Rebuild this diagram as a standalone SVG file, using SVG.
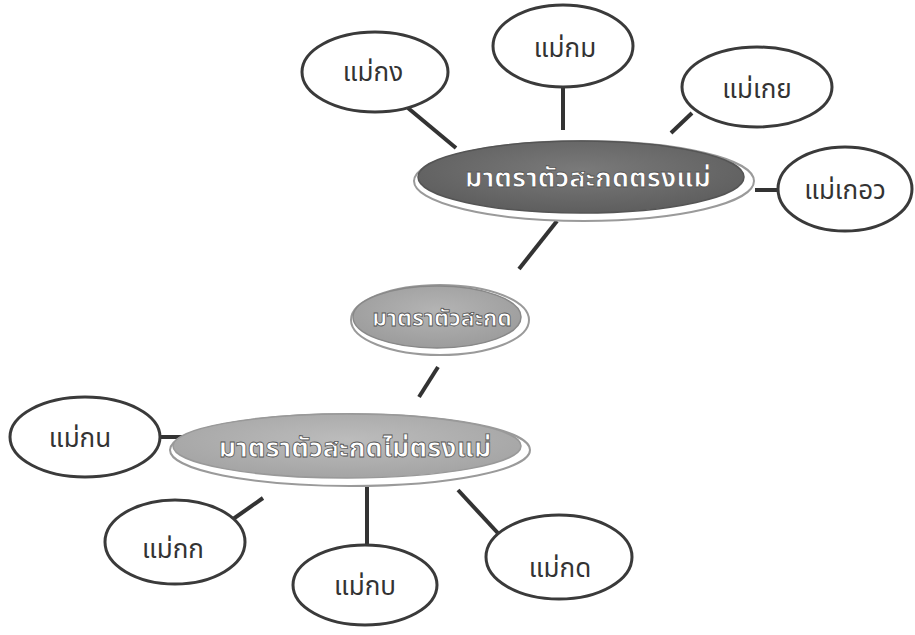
<svg xmlns="http://www.w3.org/2000/svg" width="915" height="635" viewBox="0 0 915 635">
<defs>
<style>
.leaf{fill:#ffffff;stroke:#3a3a3a;stroke-width:3}
.lt{font-family:"Noto Sans Thai","Noto Sans","DejaVu Sans",sans-serif;font-size:26px;fill:#333;text-anchor:middle}
.ct{font-family:"Noto Sans Thai","Noto Sans","DejaVu Sans",sans-serif;font-size:27px;fill:#ffffff;stroke:#555;stroke-width:0.8;text-anchor:middle;font-weight:bold}
.rim{fill:#ffffff;stroke:#9a9a9a;stroke-width:2}
.edge{stroke:#333;stroke-width:4;fill:none;stroke-linecap:butt}
</style>
<radialGradient id="gDark" cx="0.5" cy="0.4" r="0.6">
<stop offset="0" stop-color="#7a7a7a"/>
<stop offset="1" stop-color="#5e5e5e"/>
</radialGradient>
<radialGradient id="gMid" cx="0.5" cy="0.4" r="0.6">
<stop offset="0" stop-color="#b4b4b4"/>
<stop offset="1" stop-color="#9c9c9c"/>
</radialGradient>
<radialGradient id="gLow" cx="0.5" cy="0.4" r="0.6">
<stop offset="0" stop-color="#bcbcbc"/>
<stop offset="1" stop-color="#a4a4a4"/>
</radialGradient>
</defs>
<rect width="915" height="635" fill="#ffffff"/>
<g id="connectors">
<line class="edge" x1="408" y1="108" x2="456" y2="148"/>
<line class="edge" x1="563" y1="87" x2="563" y2="130"/>
<line class="edge" x1="692" y1="113" x2="671" y2="133"/>
<line class="edge" x1="755" y1="190" x2="779" y2="190"/>
<line class="edge" x1="557" y1="221" x2="519" y2="269"/>
<line class="edge" x1="438" y1="367" x2="419" y2="397"/>
<line class="edge" x1="160" y1="437" x2="186" y2="437"/>
<line class="edge" x1="263" y1="498" x2="226" y2="524"/>
<line class="edge" x1="367" y1="478" x2="367" y2="546"/>
<line class="edge" x1="458" y1="490" x2="508" y2="544"/>
</g>
<g id="n-trong">
<ellipse class="rim" cx="584" cy="181" rx="170" ry="40"/>
<ellipse cx="581" cy="177" rx="163" ry="36" fill="url(#gDark)" stroke="#555" stroke-width="1.5"/>
<text class="ct" x="588" y="187">มาตราตัวสะกดตรงแม่</text>
</g>
<g id="n-root">
<ellipse class="rim" cx="440" cy="320" rx="89" ry="35"/>
<ellipse cx="437" cy="317" rx="84" ry="31" fill="url(#gMid)" stroke="#888" stroke-width="1.5"/>
<text class="ct" x="442" y="326" style="font-size:23px">มาตราตัวสะกด</text>
</g>
<g id="n-maitrong">
<ellipse class="rim" cx="350" cy="450" rx="180" ry="36"/>
<ellipse cx="347" cy="446" rx="174" ry="32" fill="url(#gLow)" stroke="#999" stroke-width="1.5"/>
<text class="ct" x="355" y="457">มาตราตัวสะกดไม่ตรงแม่</text>
</g>
<g id="n-kong">
<ellipse class="leaf" cx="375" cy="72" rx="73" ry="40"/>
<text class="lt" x="373" y="81">แม่กง</text>
</g>
<g id="n-kom">
<ellipse class="leaf" cx="563" cy="46" rx="70" ry="41"/>
<text class="lt" x="565" y="57">แม่กม</text>
</g>
<g id="n-koei">
<ellipse class="leaf" cx="757" cy="87" rx="75" ry="40"/>
<text class="lt" x="757" y="98">แม่เกย</text>
</g>
<g id="n-koew">
<ellipse class="leaf" cx="845" cy="189" rx="67" ry="42"/>
<text class="lt" x="845" y="199">แม่เกอว</text>
</g>
<g id="n-kon">
<ellipse class="leaf" cx="85" cy="437" rx="75" ry="40"/>
<text class="lt" x="80" y="447">แม่กน</text>
</g>
<g id="n-kok">
<ellipse class="leaf" cx="175" cy="542" rx="70" ry="42"/>
<text class="lt" x="173" y="558">แม่กก</text>
</g>
<g id="n-kob">
<ellipse class="leaf" cx="365" cy="585" rx="72" ry="40"/>
<text class="lt" x="365" y="595">แม่กบ</text>
</g>
<g id="n-kod">
<ellipse class="leaf" cx="559" cy="557" rx="73" ry="42"/>
<text class="lt" x="560" y="577">แม่กด</text>
</g>
</svg>
